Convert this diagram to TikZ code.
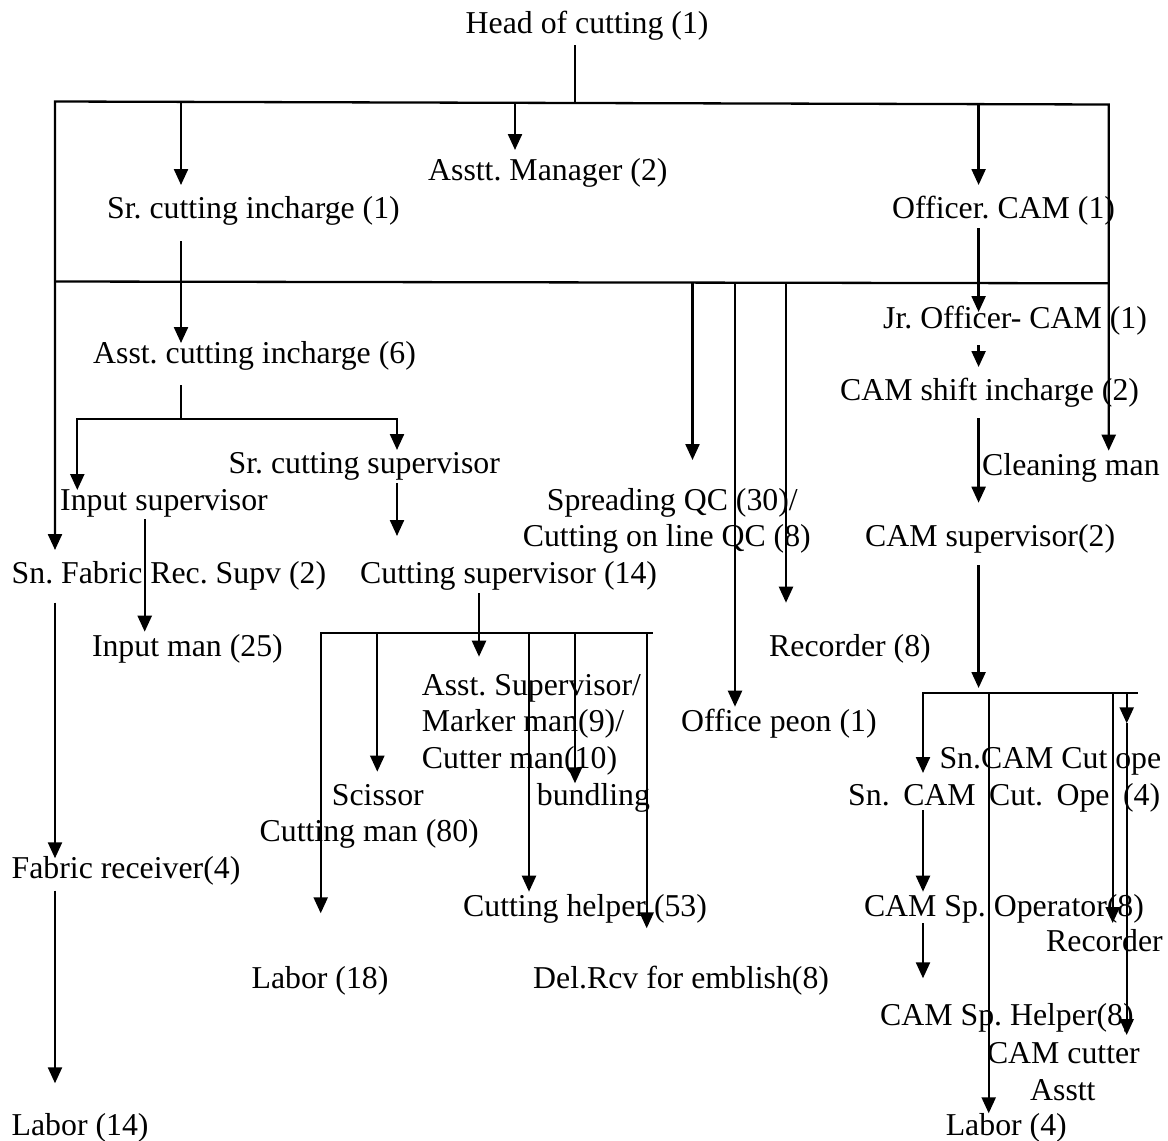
\documentclass[tikz,border=0pt]{standalone}
\usepackage{fontspec}
\setmainfont{Liberation Serif}
\usetikzlibrary{arrows.meta}
\begin{document}
\frenchspacing
\begin{tikzpicture}[x=1pt,y=-1pt,
  lbl/.style={anchor=base west, inner sep=0pt, font=\fontsize{31.8}{38}\selectfont},
  ln/.style={line width=2.3pt},
  arr/.style={ln, -{Triangle[length=16pt,width=14pt]}},
  rarr/.style={ln, {Triangle[length=16pt,width=14pt]}-},
  barr/.style={ln, {Triangle[length=16pt,width=14pt]}-{Triangle[length=16pt,width=14pt]}}]
\useasboundingbox (0,0) rectangle (1168,1141);

% ---------- labels ----------
\node[lbl] (head) at (465.5,33.3) {Head of cutting (1)};
\node[lbl] (asstmgr) at (428,180) {Asstt. Manager (2)};
\node[lbl] (srinch) at (107,218) {Sr. cutting incharge (1)};
\node[lbl] (offcam) at (892,218) {Officer. CAM (1)};
\node[lbl] (jroff) at (883,328) {Jr. Officer- CAM (1)};
\node[lbl] (asstinch) at (93,363) {Asst. cutting incharge (6)};
\node[lbl] (camshift) at (840,400) {CAM shift incharge (2)};
\node[lbl] (srsup) at (228.5,473.3) {Sr. cutting supervisor};
\node[lbl] (clean) at (982,475) {Cleaning man};
\node[lbl] (inputsup) at (60,510) {Input supervisor};
\node[lbl] (spreadqc) at (546.7,510) {Spreading QC (30)/};
\node[lbl] (lineqc) at (522.6,546.7) {Cutting on line QC (8)};
\node[lbl] (camsup) at (865,546.7) {CAM supervisor(2)};
\node[lbl] (fabsup) at (11.5,583.3) {Sn. Fabric Rec. Supv (2)};
\node[lbl] (cutsup) at (360,583.3) {Cutting supervisor (14)};
\node[lbl] (inputman) at (91.8,656.7) {Input man (25)};
\node[lbl] (recorder) at (769,656.7) {Recorder (8)};
\node[lbl] (asstsupa) at (421.7,695) {Asst. Supervisor/};
\node[lbl] (asstsupb) at (421.7,731.7) {Marker man(9)/};
\node[lbl] (asstsupc) at (421.7,768.3) {Cutter man(10)};
\node[lbl] (peon) at (681,731.7) {Office peon (1)};
\node[lbl] (sncama) at (939.3,768.3) {Sn.CAM Cut ope};
\node[lbl] (scissor) at (331.7,805) {Scissor};
\node[lbl] (bundling) at (536.7,805) {bundling};
\node[lbl] (sncamb) at (848,805) {\makebox[312pt][s]{Sn. CAM Cut. Ope (4)}};
\node[lbl] (cutman) at (259.5,841) {Cutting man (80)};
\node[lbl] (fabrec) at (11.5,878.3) {Fabric receiver(4)};
\node[lbl] (helper) at (463,916.7) {Cutting helper (53)};
\node[lbl] (spop) at (863.8,916.7) {CAM Sp. Operator(8)};
\node[lbl] (recorderb) at (1046,951.7) {Recorder};
\node[lbl] (laborA) at (251.4,988.3) {Labor (18)};
\node[lbl] (delrcv) at (533,988.3) {Del.Rcv for emblish(8)};
\node[lbl] (sphelper) at (880,1025) {CAM Sp. Helper(8)};
\node[lbl] (camcutter) at (986.8,1063.3) {CAM cutter};
\node[lbl] (asstt) at (1030,1100) {Asstt};
\node[lbl] (laborB) at (11.5,1135) {Labor (14)};
\node[lbl] (laborC) at (945.6,1135) {Labor (4)};

% ---------- junction points ----------
\coordinate (headlow) at (575,45);
\coordinate (headbar) at (575,103);
\coordinate (tl) at (55,101.5);
\coordinate (tr) at (1108.7,104.5);
\coordinate (ml) at (55,281.5);
\coordinate (mr) at (1108.7,283.3);
\coordinate (lend) at (55,550);
\coordinate (rend) at (1108.7,450.7);

% top bar and its drops
\draw[ln] (headlow) -- (headbar);
\draw[barr] (lend) -- (tl) -- (tr) -- (rend);
\draw[ln] (ml) -- (mr);
\coordinate (s1) at (181,101.9);   \coordinate (e1) at (181,185);
\coordinate (s2) at (515,102.8);   \coordinate (e2) at (515,150);
\coordinate (s3) at (978.6,104.1); \coordinate (e3) at (978.6,185);
\draw[arr] (s1) -- (e1);
\draw[arr] (s2) -- (e2);
\draw[arr] (s3) -- (e3);

% drops from the middle bar
\coordinate (q1) at (692.5,282.6); \coordinate (qe1) at (692.5,460);
\coordinate (q2) at (735,282.7);   \coordinate (qe2) at (735,706.7);
\coordinate (q3) at (786,282.8);   \coordinate (qe3) at (786,602.7);
\draw[arr] (q1) -- (qe1);
\draw[arr] (q2) -- (qe2);
\draw[arr] (q3) -- (qe3);

% cutting incharge chain
\coordinate (c1) at (181,241);   \coordinate (c2) at (181,343);
\draw[arr] (c1) -- (c2);
\coordinate (c3) at (181,385);   \coordinate (c4) at (181,419.3);
\coordinate (bl) at (77.3,419.3); \coordinate (br) at (397,419.3);
\coordinate (ble) at (77.3,490);  \coordinate (bre) at (397,450);
\draw[ln] (c3) -- (c4);
\draw[barr] (ble) -- (bl) -- (br) -- (bre);
\coordinate (ss1) at (397,483.3); \coordinate (ss2) at (397,536);
\draw[arr] (ss1) -- (ss2);
\coordinate (in1) at (144.7,519.3); \coordinate (in2) at (144.7,631.7);
\draw[arr] (in1) -- (in2);

% fabric chain
\coordinate (f1) at (55,602.7);  \coordinate (f2) at (55,858.3);
\coordinate (f3) at (55,890.7);  \coordinate (f4) at (55,1083.3);
\draw[arr] (f1) -- (f2);
\draw[arr] (f3) -- (f4);

% cutting supervisor group
\coordinate (cs1) at (479,593.3); \coordinate (cs2) at (479,656.7);
\draw[arr] (cs1) -- (cs2);
\coordinate (gl) at (320.7,632.7); \coordinate (gr) at (653.3,632.7);
\coordinate (gle) at (320.7,913.3);
\draw[rarr] (gle) -- (gl) -- (gr);
\coordinate (g2) at (377.3,632.7); \coordinate (g2e) at (377.3,771.7);
\coordinate (g3) at (529,632.7);   \coordinate (g3e) at (529,891.7);
\coordinate (g4) at (575,632.7);   \coordinate (g4e) at (575,783.3);
\coordinate (g5) at (646.7,632.7); \coordinate (g5e) at (646.7,928.3);
\draw[arr] (g2) -- (g2e);
\draw[arr] (g3) -- (g3e);
\draw[arr] (g4) -- (g4e);
\draw[arr] (g5) -- (g5e);

% CAM chain
\coordinate (k1) at (978.6,228);  \coordinate (k2) at (978.6,312);
\coordinate (k3) at (978.6,345);  \coordinate (k4) at (978.6,367);
\coordinate (k5) at (978.6,418);  \coordinate (k6) at (978.6,502.7);
\coordinate (k7) at (978.6,565);  \coordinate (k8) at (978.6,688);
\draw[arr] (k1) -- (k2);
\draw[arr] (k3) -- (k4);
\draw[arr] (k5) -- (k6);
\draw[arr] (k7) -- (k8);

% CAM group
\coordinate (hl) at (923,693.3);   \coordinate (hr) at (1137.5,693.3);
\coordinate (hle) at (923,773);
\draw[rarr] (hle) -- (hl) -- (hr);
\coordinate (h2) at (988.7,693.3);  \coordinate (h2e) at (988.7,1113.3);
\coordinate (h3) at (1112.7,693.3); \coordinate (h3e) at (1112.7,923);
\coordinate (h4) at (1126.7,693.3); \coordinate (h4m) at (1126.7,723.3);
\coordinate (h4e) at (1126.7,1035);
\draw[arr] (h2) -- (h2e);
\draw[arr] (h3) -- (h3e);
\draw[arr] (h4) -- (h4m);
\draw[arr] (h4m) -- (h4e);
\coordinate (p1) at (923,810);   \coordinate (p2) at (923,891.7);
\coordinate (p3) at (923,923.3); \coordinate (p4) at (923,978.3);
\draw[arr] (p1) -- (p2);
\draw[arr] (p3) -- (p4);
\end{tikzpicture}
\end{document}
